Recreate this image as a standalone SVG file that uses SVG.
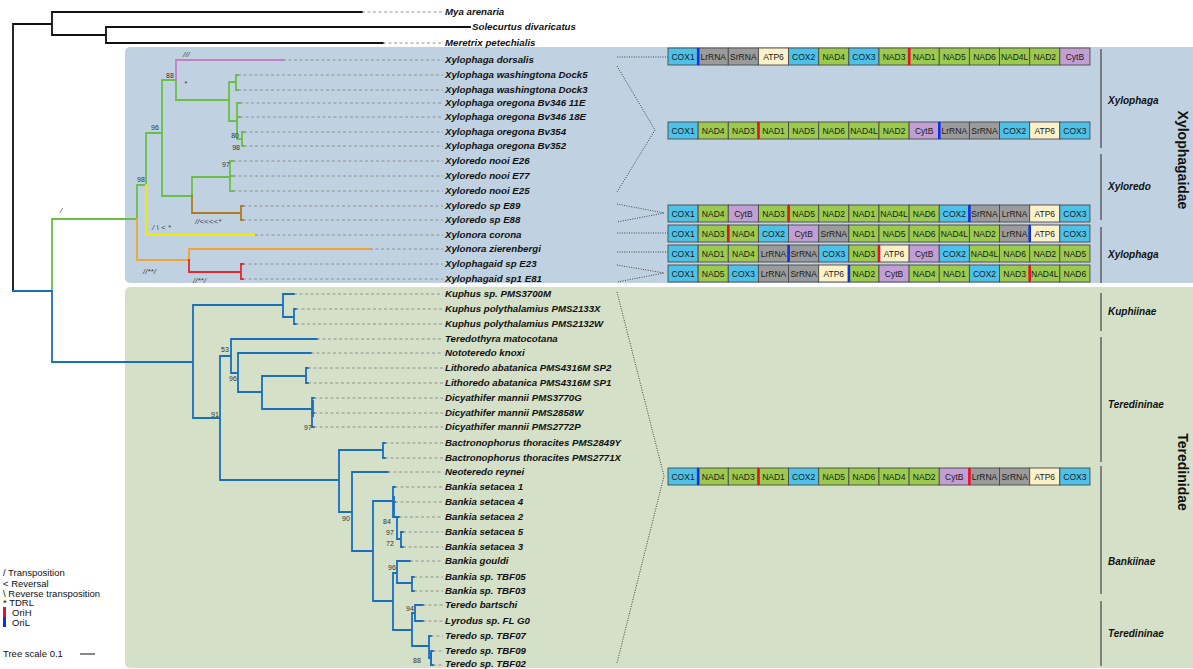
<svg xmlns="http://www.w3.org/2000/svg" width="1193" height="669" viewBox="0 0 1193 669">
<style>
text{font-family:'Liberation Sans',Arial,sans-serif}
.tx{font-size:9.7px;font-weight:bold;font-style:italic;fill:#111}
.cl{font-size:10px;font-weight:bold;font-style:italic;fill:#111}
.fam{font-size:14px;font-weight:bold;fill:#111}
.sv{font-size:7px;fill:#333}
.an{font-size:8px;font-style:italic;fill:#444}
.lg{font-size:9.5px;fill:#111}
.gt{font-size:8.5px;fill:#1a1a1a;text-anchor:middle}
.br{fill:none;stroke-width:1.8;stroke-linecap:square}
.lead{stroke:#8a8a8a;stroke-width:0.9;stroke-dasharray:3 2.5;fill:none}
.dot{stroke:#333;stroke-width:0.9;stroke-dasharray:1 1.4;fill:none}
.bx{stroke:#4a4a4a;stroke-width:0.9}
.cox{fill:#4dc1e8}.nad{fill:#9cca4f}.rna{fill:#9b9b9b}.atp{fill:#fdf1c9}.cyt{fill:#c19fd3}
.oh{fill:#e8102c}.ol{fill:#1030e8}
.cline{stroke:#444;stroke-width:1.2}
</style>
<rect width="1193" height="669" fill="#fff"/>
<rect id="panel-xylophagaidae" x="125" y="47" width="1080" height="236" rx="5" fill="#c0d2e2"/>
<rect id="panel-teredinidae" x="125" y="287" width="1080" height="381" rx="5" fill="#d4e0c8"/>

<g id="connectors">
<path class="br" stroke="#111" d="M13,24V291M13,24H52M52,12V35M52,12H362M52,35H106M106,27V43M106,27H470M106,43H383"/>
<path class="br" stroke="#6abf45" d="M52,219V291M52,219H137M137,185V219M137,185H146M146,133V185M146,133H162M162,80V196M162,80H176M176,80V100M176,100H229M229,82V121M229,82H236M236,75V90M236,75H238M236,90H238M229,121H237M237,103V139M237,103H240M237,117H240M237,139H242M242,132V146M242,132H244M242,146H244M162,196H192M192,177V196M192,177H230M230,161V191M230,161H233M230,176H233M230,191H233"/>
<path class="br" stroke="#c27fc2" d="M176,60V80M176,60H283"/>
<path class="br" stroke="#f4e800" d="M146,185V235H255"/>
<path class="br" stroke="#f4a232" d="M137,219V260H189M189,249V260M189,249H370"/>
<path class="br" stroke="#e8262e" d="M189,260V272H241M241,264V279M241,264H243M241,279H243"/>
<path class="br" stroke="#b07c1f" d="M192,196V213H241M241,206V220M241,206H243M241,220H243"/>
<path class="br" stroke="#1a6fbd" d="M13,291H52M52,291V362H193M193,305V418M193,305H283M283,294V317M283,294H294M283,317H294M294,309V324M294,309H296M294,324H296M193,418H220M220,356V480M220,356H231M231,339V373M231,339H317M231,373H238M238,353V392M238,353H311M238,392H262M262,376V409M262,376H306M306,368V383M306,368H308M306,383H308M262,409H312M312,398V427M312,398H314M312,413H314M312,427H314M220,480H339M339,450V512M339,450H383M383,443V458M383,443H385M383,458H385M339,512H352M352,472V551M352,472H388M352,551H373M373,501V601M373,501H393M393,487V517M393,487H395M393,502H395M393,517H397M397,517V539M397,517H399M397,539H401M401,532V547M401,532H403M401,547H403M373,601H393M393,573V630M393,573H397M397,561V583M397,561H410M397,583H412M412,577V591M412,577H414M412,591H414M393,630H412M412,613V646M412,613H415M415,605V621M415,605H423M415,621H423M412,646H429M429,636V658M429,636H431M429,658H431M431,651V665M431,651H433M431,665H433"/>
<path class="br" stroke="#1a6fbd" stroke-width="3" d="M313,401V416M394,497V515M431,653V664"/>
<path class="lead" d="M362,12H443M383,43H443M283,60H443M238,75H443M238,90H443M240,103H443M240,117H443M244,132H443M244,146H443M233,161H443M233,176H443M233,191H443M243,206H443M243,220H443M255,235H443M370,249H443M243,264H443M243,279H443M294,294H443M296,309H443M296,324H443M317,339H443M311,353H443M308,368H443M308,383H443M314,398H443M314,413H443M314,427H443M385,443H443M385,458H443M388,472H443M395,487H443M395,502H443M399,517H443M403,532H443M403,547H443M410,561H443M414,577H443M414,591H443M423,605H443M423,621H443M431,636H443M433,651H443M433,665H443"/>
<path class="dot" d="M617,57H668M617,66L655,130L617,192M617,204L664,213L617,222M617,233H668M617,252H668M617,265L664,273L617,282M617,292L664,476L617,663"/>
</g>

<g id="annotations">
<text class="an" x="60" y="213">/</text>
<text class="an" x="183" y="57">///</text>
<text class="an" x="184" y="86">*</text>
<text class="an" x="195" y="224">//&lt;&lt;&lt;&lt;*</text>
<text class="an" x="152" y="230">/ \ &lt; *</text>
<text class="an" x="143" y="274">//**/</text>
<text class="an" x="193" y="283">//**/</text>
<text class="sv" x="166" y="78">88</text>
<text class="sv" x="151" y="130">96</text>
<text class="sv" x="137" y="182">98</text>
<text class="sv" x="239" y="138" text-anchor="end">80</text>
<text class="sv" x="240" y="150" text-anchor="end">98</text>
<text class="sv" x="222" y="167">97</text>
<text class="sv" x="221" y="352">53</text>
<text class="sv" x="229" y="381">96</text>
<text class="sv" x="211" y="417">91</text>
<text class="sv" x="304" y="430">97</text>
<text class="sv" x="342" y="521">90</text>
<text class="sv" x="383" y="524">84</text>
<text class="sv" x="386" y="535">97</text>
<text class="sv" x="386" y="546">72</text>
<text class="sv" x="388" y="570">96</text>
<text class="sv" x="406" y="611">94</text>
<text class="sv" x="413" y="663">88</text>
</g>

<g id="taxa">
<g id="t-mya"><text class="tx" x="445" y="15">Mya arenaria</text></g>
<g id="t-solecurtus"><text class="tx" x="472" y="30">Solecurtus divaricatus</text></g>
<g id="t-meretrix"><text class="tx" x="445" y="46">Meretrix petechialis</text></g>
<g id="t-xdorsalis"><text class="tx" x="445" y="62.5">Xylophaga dorsalis</text></g>
<g id="t-xdock5"><text class="tx" x="445" y="77.5">Xylophaga washingtona Dock5</text></g>
<g id="t-xdock3"><text class="tx" x="445" y="92.5">Xylophaga washingtona Dock3</text></g>
<g id="t-x11e"><text class="tx" x="445" y="105.5">Xylophaga oregona Bv346 11E</text></g>
<g id="t-x18e"><text class="tx" x="445" y="119.5">Xylophaga oregona Bv346 18E</text></g>
<g id="t-x354"><text class="tx" x="445" y="134.5">Xylophaga oregona Bv354</text></g>
<g id="t-x352"><text class="tx" x="445" y="148.5">Xylophaga oregona Bv352</text></g>
<g id="t-e26"><text class="tx" x="445" y="163.5">Xyloredo nooi E26</text></g>
<g id="t-e77"><text class="tx" x="445" y="178.5">Xyloredo nooi E77</text></g>
<g id="t-e25"><text class="tx" x="445" y="193.5">Xyloredo nooi E25</text></g>
<g id="t-e89"><text class="tx" x="445" y="208.5">Xyloredo sp E89</text></g>
<g id="t-e88"><text class="tx" x="445" y="222.5">Xyloredo sp E88</text></g>
<g id="t-corona"><text class="tx" x="445" y="237.5">Xylonora corona</text></g>
<g id="t-zierenbergi"><text class="tx" x="445" y="251.5">Xylonora zierenbergi</text></g>
<g id="t-e23"><text class="tx" x="445" y="266.5">Xylophagaid sp E23</text></g>
<g id="t-e81"><text class="tx" x="445" y="281.5">Xylophagaid sp1 E81</text></g>
<g id="t-kuphus"><text class="tx" x="445" y="296.5">Kuphus sp. PMS3700M</text></g>
<g id="t-k2133"><text class="tx" x="445" y="311.5">Kuphus polythalamius PMS2133X</text></g>
<g id="t-k2132"><text class="tx" x="445" y="326.5">Kuphus polythalamius PMS2132W</text></g>
<g id="t-teredothyra"><text class="tx" x="445" y="341.5">Teredothyra matocotana</text></g>
<g id="t-nototeredo"><text class="tx" x="445" y="355.5">Nototeredo knoxi</text></g>
<g id="t-sp2"><text class="tx" x="445" y="370.5">Lithoredo abatanica PMS4316M SP2</text></g>
<g id="t-sp1"><text class="tx" x="445" y="385.5">Lithoredo abatanica PMS4316M SP1</text></g>
<g id="t-d3770"><text class="tx" x="445" y="400.5">Dicyathifer mannii PMS3770G</text></g>
<g id="t-d2858"><text class="tx" x="445" y="415.5">Dicyathifer mannii PMS2858W</text></g>
<g id="t-d2772"><text class="tx" x="445" y="429.5">Dicyathifer mannii PMS2772P</text></g>
<g id="t-b2849"><text class="tx" x="445" y="445.5">Bactronophorus thoracites PMS2849Y</text></g>
<g id="t-b2771"><text class="tx" x="445" y="460.5">Bactronophorus thoracites PMS2771X</text></g>
<g id="t-neoteredo"><text class="tx" x="445" y="474.5">Neoteredo reynei</text></g>
<g id="t-s1"><text class="tx" x="445" y="489.5">Bankia setacea 1</text></g>
<g id="t-s4"><text class="tx" x="445" y="504.5">Bankia setacea 4</text></g>
<g id="t-s2"><text class="tx" x="445" y="519.5">Bankia setacea 2</text></g>
<g id="t-s5"><text class="tx" x="445" y="534.5">Bankia setacea 5</text></g>
<g id="t-s3"><text class="tx" x="445" y="549.5">Bankia setacea 3</text></g>
<g id="t-gouldi"><text class="tx" x="445" y="563.5">Bankia gouldi</text></g>
<g id="t-tbf05"><text class="tx" x="445" y="579.5">Bankia sp. TBF05</text></g>
<g id="t-tbf03"><text class="tx" x="445" y="593.5">Bankia sp. TBF03</text></g>
<g id="t-bartschi"><text class="tx" x="445" y="607.5">Teredo bartschi</text></g>
<g id="t-lyrodus"><text class="tx" x="445" y="623.5">Lyrodus sp. FL G0</text></g>
<g id="t-tbf07"><text class="tx" x="445" y="638.5">Teredo sp. TBF07</text></g>
<g id="t-tbf09"><text class="tx" x="445" y="653.5">Teredo sp. TBF09</text></g>
<g id="t-tbf02"><text class="tx" x="445" y="667">Teredo sp. TBF02</text></g>
</g>

<g id="gene-row1" transform="translate(668,48)">
<rect class="bx cox" x="0" width="30.14" height="17"/><rect class="bx rna" x="30.14" width="30.14" height="17"/><rect class="bx rna" x="60.28" width="30.14" height="17"/><rect class="bx atp" x="90.42" width="30.14" height="17"/><rect class="bx cox" x="120.56" width="30.14" height="17"/><rect class="bx nad" x="150.7" width="30.14" height="17"/><rect class="bx cox" x="180.84" width="30.14" height="17"/><rect class="bx nad" x="210.98" width="30.14" height="17"/><rect class="bx nad" x="241.12" width="30.14" height="17"/><rect class="bx nad" x="271.26" width="30.14" height="17"/><rect class="bx nad" x="301.4" width="30.14" height="17"/><rect class="bx nad" x="331.54" width="30.14" height="17"/><rect class="bx nad" x="361.68" width="30.14" height="17"/><rect class="bx cyt" x="391.82" width="30.14" height="17"/>
<rect class="ol" x="28.9" width="2.6" height="17"/><rect class="oh" x="239.9" width="2.6" height="17"/>
<text class="gt" y="11.8"><tspan x="15.07">COX1</tspan><tspan x="45.21">LrRNA</tspan><tspan x="75.35">SrRNA</tspan><tspan x="105.49">ATP6</tspan><tspan x="135.63">COX2</tspan><tspan x="165.77">NAD4</tspan><tspan x="195.91">COX3</tspan><tspan x="226.05">NAD3</tspan><tspan x="256.19">NAD1</tspan><tspan x="286.33">NAD5</tspan><tspan x="316.47">NAD6</tspan><tspan x="346.61">NAD4L</tspan><tspan x="376.75">NAD2</tspan><tspan x="406.89">CytB</tspan></text>
</g>

<g id="gene-row2" transform="translate(668,122)">
<rect class="bx cox" x="0" width="30.14" height="17"/><rect class="bx nad" x="30.14" width="30.14" height="17"/><rect class="bx nad" x="60.28" width="30.14" height="17"/><rect class="bx nad" x="90.42" width="30.14" height="17"/><rect class="bx nad" x="120.56" width="30.14" height="17"/><rect class="bx nad" x="150.7" width="30.14" height="17"/><rect class="bx nad" x="180.84" width="30.14" height="17"/><rect class="bx nad" x="210.98" width="30.14" height="17"/><rect class="bx cyt" x="241.12" width="30.14" height="17"/><rect class="bx rna" x="271.26" width="30.14" height="17"/><rect class="bx rna" x="301.4" width="30.14" height="17"/><rect class="bx cox" x="331.54" width="30.14" height="17"/><rect class="bx atp" x="361.68" width="30.14" height="17"/><rect class="bx cox" x="391.82" width="30.14" height="17"/>
<rect class="oh" x="89.2" width="2.6" height="17"/><rect class="ol" x="270" width="2.6" height="17"/>
<text class="gt" y="11.8"><tspan x="15.07">COX1</tspan><tspan x="45.21">NAD4</tspan><tspan x="75.35">NAD3</tspan><tspan x="105.49">NAD1</tspan><tspan x="135.63">NAD5</tspan><tspan x="165.77">NAD6</tspan><tspan x="195.91">NAD4L</tspan><tspan x="226.05">NAD2</tspan><tspan x="256.19">CytB</tspan><tspan x="286.33">LrRNA</tspan><tspan x="316.47">SrRNA</tspan><tspan x="346.61">COX2</tspan><tspan x="376.75">ATP6</tspan><tspan x="406.89">COX3</tspan></text>
</g>

<g id="gene-row3" transform="translate(668,205)">
<rect class="bx cox" x="0" width="30.14" height="17"/><rect class="bx nad" x="30.14" width="30.14" height="17"/><rect class="bx cyt" x="60.28" width="30.14" height="17"/><rect class="bx nad" x="90.42" width="30.14" height="17"/><rect class="bx nad" x="120.56" width="30.14" height="17"/><rect class="bx nad" x="150.7" width="30.14" height="17"/><rect class="bx nad" x="180.84" width="30.14" height="17"/><rect class="bx nad" x="210.98" width="30.14" height="17"/><rect class="bx nad" x="241.12" width="30.14" height="17"/><rect class="bx cox" x="271.26" width="30.14" height="17"/><rect class="bx rna" x="301.4" width="30.14" height="17"/><rect class="bx rna" x="331.54" width="30.14" height="17"/><rect class="bx atp" x="361.68" width="30.14" height="17"/><rect class="bx cox" x="391.82" width="30.14" height="17"/>
<rect class="oh" x="119.3" width="2.6" height="17"/><rect class="ol" x="300.1" width="2.6" height="17"/>
<text class="gt" y="11.8"><tspan x="15.07">COX1</tspan><tspan x="45.21">NAD4</tspan><tspan x="75.35">CytB</tspan><tspan x="105.49">NAD3</tspan><tspan x="135.63">NAD5</tspan><tspan x="165.77">NAD2</tspan><tspan x="195.91">NAD1</tspan><tspan x="226.05">NAD4L</tspan><tspan x="256.19">NAD6</tspan><tspan x="286.33">COX2</tspan><tspan x="316.47">SrRNA</tspan><tspan x="346.61">LrRNA</tspan><tspan x="376.75">ATP6</tspan><tspan x="406.89">COX3</tspan></text>
</g>

<g id="gene-row4" transform="translate(668,225)">
<rect class="bx cox" x="0" width="30.14" height="17"/><rect class="bx nad" x="30.14" width="30.14" height="17"/><rect class="bx nad" x="60.28" width="30.14" height="17"/><rect class="bx cox" x="90.42" width="30.14" height="17"/><rect class="bx cyt" x="120.56" width="30.14" height="17"/><rect class="bx rna" x="150.7" width="30.14" height="17"/><rect class="bx nad" x="180.84" width="30.14" height="17"/><rect class="bx nad" x="210.98" width="30.14" height="17"/><rect class="bx nad" x="241.12" width="30.14" height="17"/><rect class="bx nad" x="271.26" width="30.14" height="17"/><rect class="bx nad" x="301.4" width="30.14" height="17"/><rect class="bx rna" x="331.54" width="30.14" height="17"/><rect class="bx atp" x="361.68" width="30.14" height="17"/><rect class="bx cox" x="391.82" width="30.14" height="17"/>
<rect class="oh" x="59" width="2.6" height="17"/><rect class="ol" x="360.4" width="2.6" height="17"/>
<text class="gt" y="11.8"><tspan x="15.07">COX1</tspan><tspan x="45.21">NAD3</tspan><tspan x="75.35">NAD4</tspan><tspan x="105.49">COX2</tspan><tspan x="135.63">CytB</tspan><tspan x="165.77">SrRNA</tspan><tspan x="195.91">NAD1</tspan><tspan x="226.05">NAD5</tspan><tspan x="256.19">NAD6</tspan><tspan x="286.33">NAD4L</tspan><tspan x="316.47">NAD2</tspan><tspan x="346.61">LrRNA</tspan><tspan x="376.75">ATP6</tspan><tspan x="406.89">COX3</tspan></text>
</g>

<g id="gene-row5" transform="translate(668,245)">
<rect class="bx cox" x="0" width="30.14" height="17"/><rect class="bx nad" x="30.14" width="30.14" height="17"/><rect class="bx nad" x="60.28" width="30.14" height="17"/><rect class="bx rna" x="90.42" width="30.14" height="17"/><rect class="bx rna" x="120.56" width="30.14" height="17"/><rect class="bx cox" x="150.7" width="30.14" height="17"/><rect class="bx nad" x="180.84" width="30.14" height="17"/><rect class="bx atp" x="210.98" width="30.14" height="17"/><rect class="bx cyt" x="241.12" width="30.14" height="17"/><rect class="bx cox" x="271.26" width="30.14" height="17"/><rect class="bx nad" x="301.4" width="30.14" height="17"/><rect class="bx nad" x="331.54" width="30.14" height="17"/><rect class="bx nad" x="361.68" width="30.14" height="17"/><rect class="bx nad" x="391.82" width="30.14" height="17"/>
<rect class="ol" x="119.3" width="2.6" height="17"/><rect class="oh" x="209.7" width="2.6" height="17"/>
<text class="gt" y="11.8"><tspan x="15.07">COX1</tspan><tspan x="45.21">NAD1</tspan><tspan x="75.35">NAD4</tspan><tspan x="105.49">LrRNA</tspan><tspan x="135.63">SrRNA</tspan><tspan x="165.77">COX3</tspan><tspan x="195.91">NAD3</tspan><tspan x="226.05">ATP6</tspan><tspan x="256.19">CytB</tspan><tspan x="286.33">COX2</tspan><tspan x="316.47">NAD4L</tspan><tspan x="346.61">NAD6</tspan><tspan x="376.75">NAD2</tspan><tspan x="406.89">NAD5</tspan></text>
</g>

<g id="gene-row6" transform="translate(668,265)">
<rect class="bx cox" x="0" width="30.14" height="17"/><rect class="bx nad" x="30.14" width="30.14" height="17"/><rect class="bx cox" x="60.28" width="30.14" height="17"/><rect class="bx rna" x="90.42" width="30.14" height="17"/><rect class="bx rna" x="120.56" width="30.14" height="17"/><rect class="bx atp" x="150.7" width="30.14" height="17"/><rect class="bx nad" x="180.84" width="30.14" height="17"/><rect class="bx cyt" x="210.98" width="30.14" height="17"/><rect class="bx nad" x="241.12" width="30.14" height="17"/><rect class="bx nad" x="271.26" width="30.14" height="17"/><rect class="bx cox" x="301.4" width="30.14" height="17"/><rect class="bx nad" x="331.54" width="30.14" height="17"/><rect class="bx nad" x="361.68" width="30.14" height="17"/><rect class="bx nad" x="391.82" width="30.14" height="17"/>
<rect class="ol" x="179.6" width="2.6" height="17"/><rect class="oh" x="360.4" width="2.6" height="17"/>
<text class="gt" y="11.8"><tspan x="15.07">COX1</tspan><tspan x="45.21">NAD5</tspan><tspan x="75.35">COX3</tspan><tspan x="105.49">LrRNA</tspan><tspan x="135.63">SrRNA</tspan><tspan x="165.77">ATP6</tspan><tspan x="195.91">NAD2</tspan><tspan x="226.05">CytB</tspan><tspan x="256.19">NAD4</tspan><tspan x="286.33">NAD1</tspan><tspan x="316.47">COX2</tspan><tspan x="346.61">NAD3</tspan><tspan x="376.75">NAD4L</tspan><tspan x="406.89">NAD6</tspan></text>
</g>

<g id="gene-row7" transform="translate(668,468)">
<rect class="bx cox" x="0" width="30.14" height="17"/><rect class="bx nad" x="30.14" width="30.14" height="17"/><rect class="bx nad" x="60.28" width="30.14" height="17"/><rect class="bx nad" x="90.42" width="30.14" height="17"/><rect class="bx cox" x="120.56" width="30.14" height="17"/><rect class="bx nad" x="150.7" width="30.14" height="17"/><rect class="bx nad" x="180.84" width="30.14" height="17"/><rect class="bx nad" x="210.98" width="30.14" height="17"/><rect class="bx nad" x="241.12" width="30.14" height="17"/><rect class="bx cyt" x="271.26" width="30.14" height="17"/><rect class="bx rna" x="301.4" width="30.14" height="17"/><rect class="bx rna" x="331.54" width="30.14" height="17"/><rect class="bx atp" x="361.68" width="30.14" height="17"/><rect class="bx cox" x="391.82" width="30.14" height="17"/>
<rect class="ol" x="28.9" width="2.6" height="17"/><rect class="oh" x="89.2" width="2.6" height="17"/><rect class="oh" x="300.1" width="2.6" height="17"/>
<text class="gt" y="11.8"><tspan x="15.07">COX1</tspan><tspan x="45.21">NAD4</tspan><tspan x="75.35">NAD3</tspan><tspan x="105.49">NAD1</tspan><tspan x="135.63">COX2</tspan><tspan x="165.77">NAD5</tspan><tspan x="195.91">NAD6</tspan><tspan x="226.05">NAD4</tspan><tspan x="256.19">NAD2</tspan><tspan x="286.33">CytB</tspan><tspan x="316.47">LrRNA</tspan><tspan x="346.61">SrRNA</tspan><tspan x="376.75">ATP6</tspan><tspan x="406.89">COX3</tspan></text>
</g>

<g id="clade-labels">
<path class="cline" d="M1101,49V148M1101,154V220M1101,227V283M1101,293V331M1101,337V462M1101,466V594M1101,601V666"/>
<text class="cl" x="1108" y="104">Xylophaga</text>
<text class="cl" x="1108" y="190">Xyloredo</text>
<text class="cl" x="1108" y="258">Xylophaga</text>
<text class="cl" x="1108" y="315">Kuphiinae</text>
<text class="cl" x="1108" y="408">Teredininae</text>
<text class="cl" x="1108" y="565">Bankiinae</text>
<text class="cl" x="1108" y="637">Teredininae</text>
<text class="fam" transform="translate(1178,160) rotate(90)" text-anchor="middle">Xylophagaidae</text>
<text class="fam" transform="translate(1178,472) rotate(90)" text-anchor="middle">Teredinidae</text>
</g>

<g id="legend">
<text class="lg" x="3" y="576">/ Transposition</text>
<text class="lg" x="3" y="587">&lt; Reversal</text>
<text class="lg" x="3" y="597">\ Reverse transposition</text>
<text class="lg" x="3" y="606">* TDRL</text>
<rect class="oh" x="3" y="607" width="3" height="10"/>
<text class="lg" x="12" y="615.5">OriH</text>
<rect class="ol" x="3" y="617" width="3" height="10"/>
<text class="lg" x="12" y="625.5">OriL</text>
<text class="lg" x="3" y="657">Tree scale 0.1</text>
<path d="M80,654H95" stroke="#111" stroke-width="1"/>
</g>
</svg>
